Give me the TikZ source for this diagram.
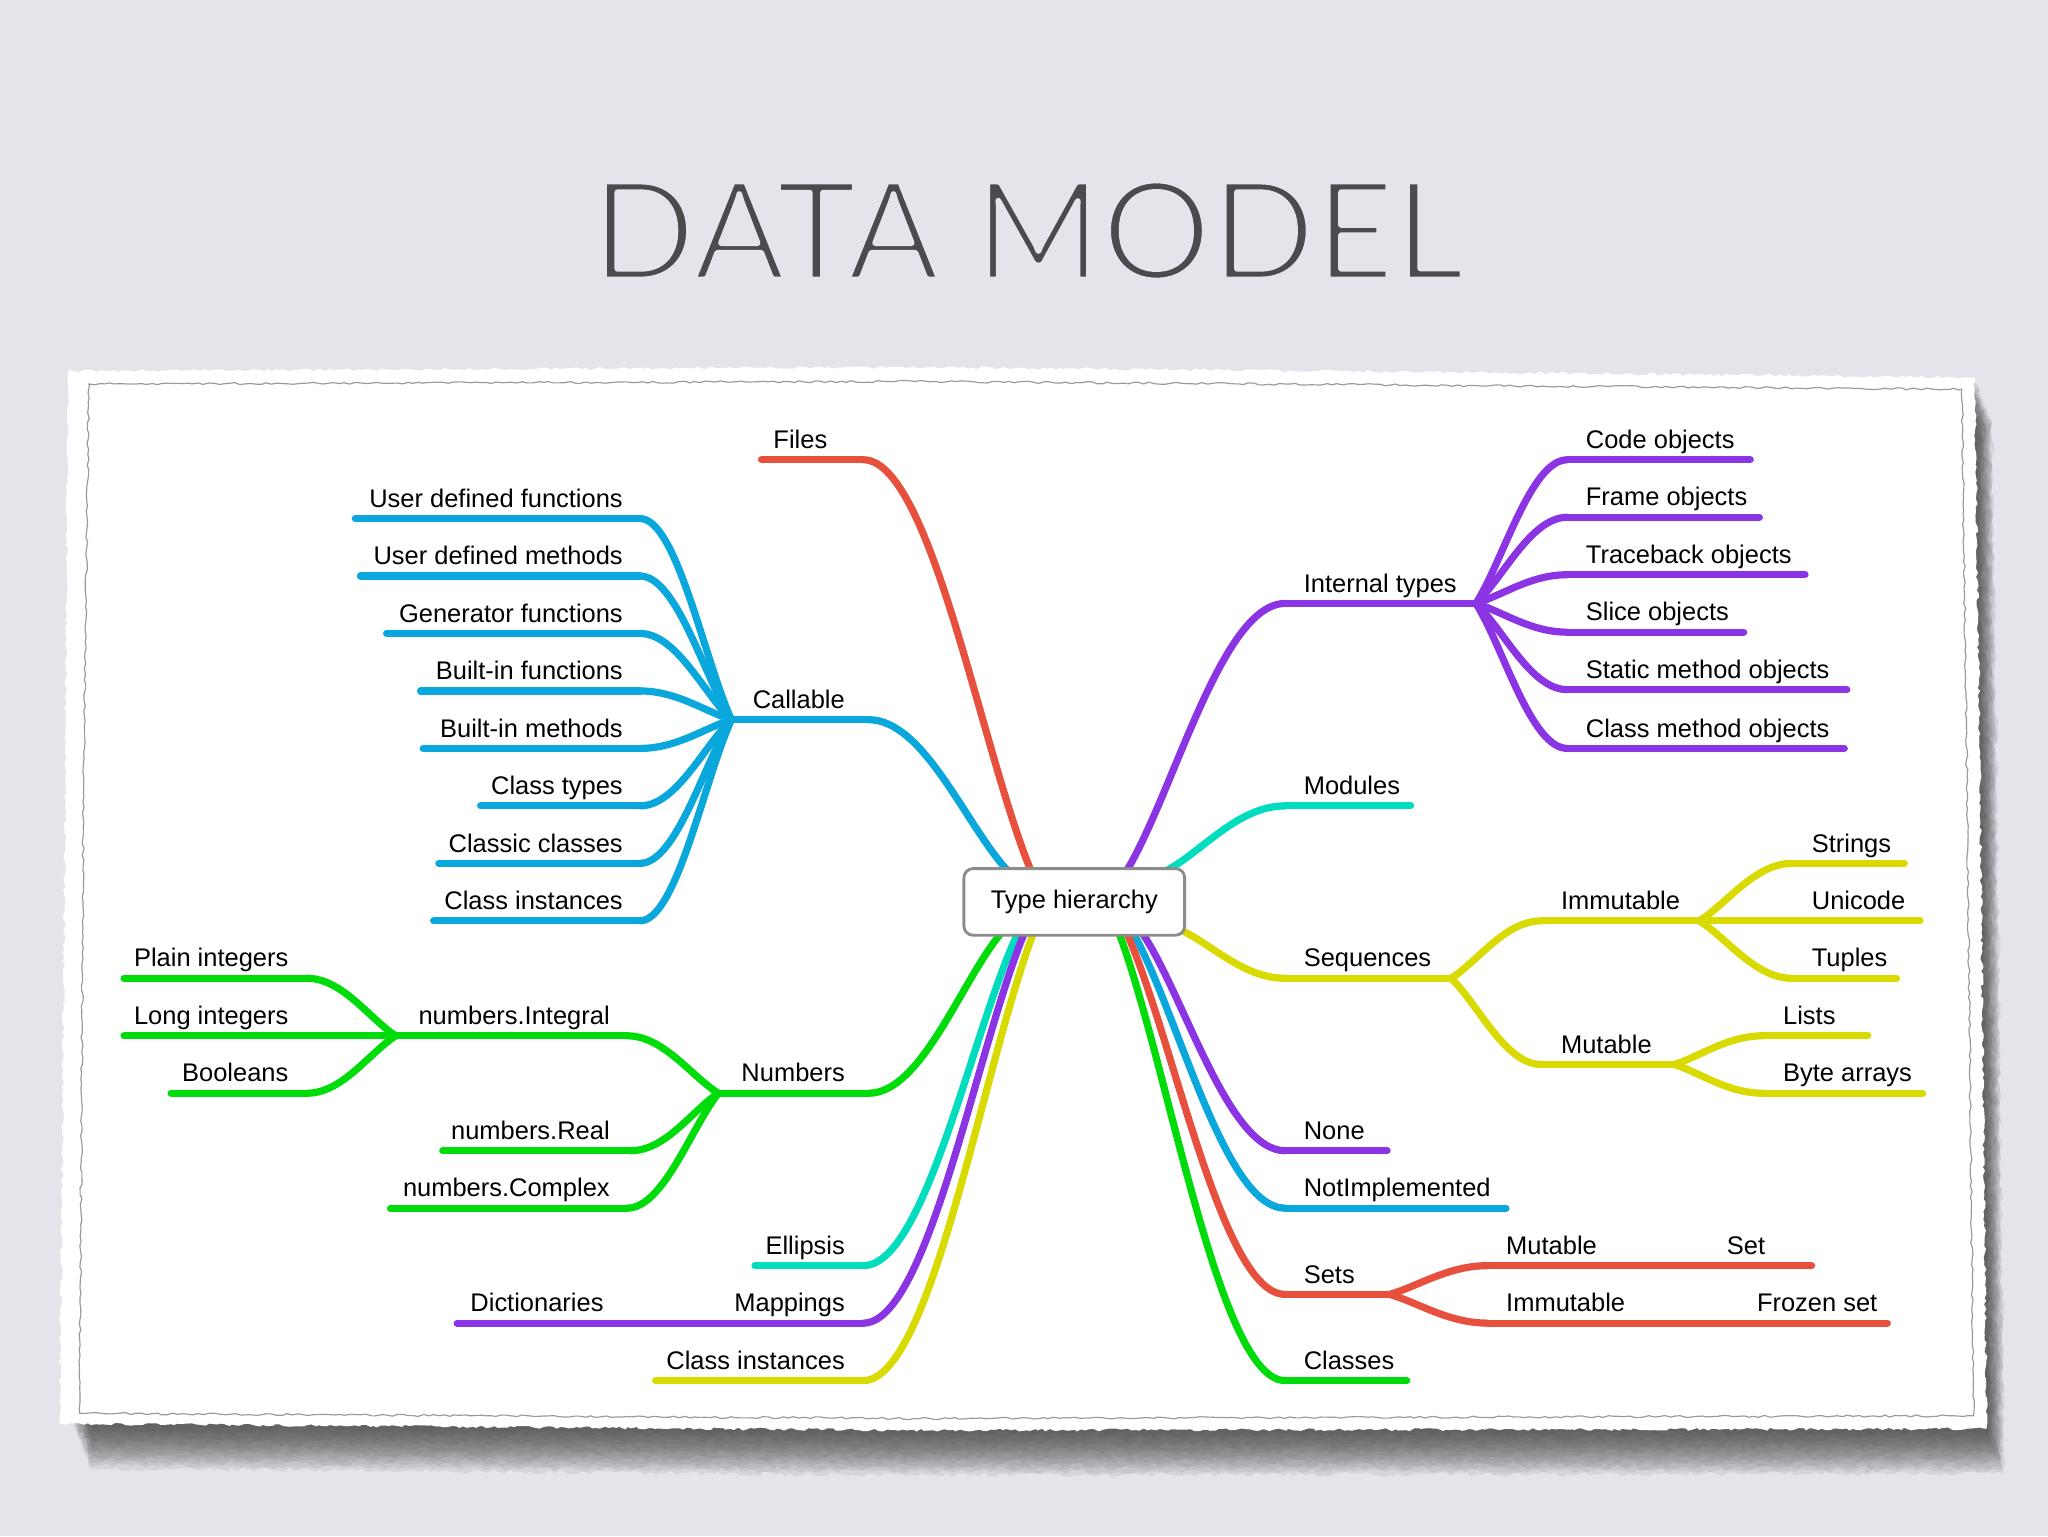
\documentclass[tikz,border=0pt]{standalone}
\usepackage{fontspec}
\setmainfont{Liberation Sans}
\newfontfamily\titlefont{Lato}
\usetikzlibrary{calc,decorations.pathmorphing}
\pgfdeclarelayer{back}
\pgfdeclarelayer{lines}
\pgfsetlayers{back,lines,main}
\definecolor{cred}{HTML}{E8503E}
\definecolor{cblue}{HTML}{0AA7DD}
\definecolor{cpurple}{HTML}{8B34E3}
\definecolor{cteal}{HTML}{00DDBE}
\definecolor{cyellow}{HTML}{D8DA00}
\definecolor{cgreen}{HTML}{00DC0A}
\definecolor{boxgray}{HTML}{8C8C8C}
\definecolor{titlegray}{HTML}{4B4B4E}
\definecolor{bggray}{HTML}{E4E5EA}
\definecolor{edgegray}{HTML}{9A9A9A}
\newcommand\lbfont{\fontsize{19.5}{22}\selectfont}
\tikzset{
  lbl/.style={font=\lbfont, inner sep=0pt, text=black},
  br/.style={line width=5.5pt, line cap=round, line join=round},
  hubbox/.style={draw=boxgray, line width=2.2pt, fill=white, rounded corners=7pt,
    minimum width=169pt, minimum height=51pt, font=\lbfont, inner sep=0pt},
  torn/.style={decorate, decoration={random steps, segment length=3pt, amplitude=1.1pt}},
}
% label right-aligned at #6 (text right edge)
\newcommand\mmL[7]{%
  \coordinate (#1-a) at (#3,#5);
  \coordinate (#1-b) at (#4,#5);
  \node[lbl, anchor=base east] (#1) at (#6,#5-8.7) {#7};
  \begin{pgfonlayer}{lines}\draw[br,#2] (#1-a) -- (#1-b);\end{pgfonlayer}}
% label left-aligned at #6
\newcommand\mmR[7]{%
  \coordinate (#1-a) at (#3,#5);
  \coordinate (#1-b) at (#4,#5);
  \node[lbl, anchor=base west] (#1) at (#6,#5-8.7) {#7};
  \begin{pgfonlayer}{lines}\draw[br,#2] (#1-a) -- (#1-b);\end{pgfonlayer}}
% curved connector: horizontal at #2, arriving into #3
\newcommand\mmlink[3]{%
  \begin{pgfonlayer}{lines}
  \draw[br,#1] let \p1=(#2), \p2=(#3) in (\p1) .. controls ({\x1+0.4*(\x2-\x1)},\y1) and ({\x2-0.3*(\x2-\x1)},{\y2-0.3*(\y2-\y1)}) .. (\p2);
  \end{pgfonlayer}}
\begin{document}
\begin{tikzpicture}[x=1pt,y=-1pt]
\pgfmathsetseed{11}
\useasboundingbox (0,0) rectangle (1568,1176);
\begin{pgfonlayer}{back}
  \fill[bggray] (0,0) rectangle (1568,1176);
  % shadow
  \foreach \i in {1,...,14}{
    \begin{scope}[shift={(\i*0.95,\i*2.45)}]
      \fill[black!80, opacity=0.085, decorate, decoration={random steps, segment length=4pt, amplitude=1.6pt}] (60,290) -- (700,287) -- (1512,289) -- (1516,600) -- (1521,1094) -- (700,1095) -- (56,1090) -- (58,600) -- cycle;
    \end{scope}}
  % paper
  \fill[white, torn] (52,284) -- (700,281) -- (1512,289) -- (1516,600) -- (1521,1094) -- (700,1095) -- (46,1090) -- (50,600) -- cycle;
  \draw[edgegray, line width=0.9pt, decorate, decoration={random steps, segment length=4pt, amplitude=0.8pt}]
    (68,294) -- (700,292) -- (1502,298) -- (1506,600) -- (1511,1084) -- (700,1086) -- (61,1082) -- (64,600) -- cycle;
\end{pgfonlayer}

% title
\node[anchor=base, text=titlegray, inner sep=0pt] (title) at (787,214)
  {\titlefont\fontsize{104.7}{110}\selectfont\special{pdf:literal direct q 1 j 2 Tr 4.4 w 0.894 0.898 0.918 RG}DATA MODEL\special{pdf:literal direct Q}};

% hub
\node[hubbox] (hub) at (822.5,690.5) {Type hierarchy};
\coordinate (h-files) at (789,666);
\coordinate (h-cal) at (771,666);
\coordinate (h-int) at (863,666);
\coordinate (h-mod) at (894,666);
\coordinate (h-num) at (766,715);
\coordinate (h-ell) at (779,715);
\coordinate (h-map) at (784,715);
\coordinate (h-cin) at (791,715);
\coordinate (h-cls) at (857,715);
\coordinate (h-set) at (863,715);
\coordinate (h-ni) at (868,715);
\coordinate (h-none) at (875,715);
\coordinate (h-seq) at (904,712);

% ---- left top
\mmR{files}{cred}{583}{661}{352}{592}{Files}
\mmlink{cred}{files-b}{h-files}
\mmL{cal}{cblue}{560}{665}{551}{647}{Callable}
\mmlink{cblue}{cal-b}{h-cal}
\mmL{udf}{cblue}{272}{490}{397}{477}{User defined functions}
\mmL{udm}{cblue}{276}{490}{441}{477}{User defined methods}
\mmL{gen}{cblue}{296}{490}{485}{477}{Generator functions}
\mmL{bif}{cblue}{322}{490}{529}{477}{Built-in functions}
\mmL{bim}{cblue}{324}{490}{573}{477}{Built-in methods}
\mmL{clt}{cblue}{368}{490}{617}{477}{Class types}
\mmL{clc}{cblue}{336}{490}{661}{477}{Classic classes}
\mmL{cli}{cblue}{332}{490}{705}{477}{Class instances}
\mmlink{cblue}{udf-b}{cal-a}
\mmlink{cblue}{udm-b}{cal-a}
\mmlink{cblue}{gen-b}{cal-a}
\mmlink{cblue}{bif-b}{cal-a}
\mmlink{cblue}{bim-b}{cal-a}
\mmlink{cblue}{clt-b}{cal-a}
\mmlink{cblue}{clc-b}{cal-a}
\mmlink{cblue}{cli-b}{cal-a}

% ---- left bottom
\mmL{num}{cgreen}{550}{665}{837}{647}{Numbers}
\mmlink{cgreen}{num-b}{h-num}
\mmL{intg}{cgreen}{303}{480}{793}{467}{numbers.Integral}
\mmL{real}{cgreen}{339}{483}{881}{467}{numbers.Real}
\mmL{cplx}{cgreen}{299}{480}{925}{467}{numbers.Complex}
\mmlink{cgreen}{intg-b}{num-a}
\mmlink{cgreen}{real-b}{num-a}
\mmlink{cgreen}{cplx-b}{num-a}
\mmL{plain}{cgreen}{95}{235}{749}{221}{Plain integers}
\mmL{long}{cgreen}{95}{303}{793}{221}{Long integers}
\mmL{bool}{cgreen}{131}{235}{837}{221}{Booleans}
\mmlink{cgreen}{plain-b}{intg-a}
\mmlink{cgreen}{bool-b}{intg-a}
\mmL{ell}{cteal}{578}{661}{969}{647}{Ellipsis}
\mmlink{cteal}{ell-b}{h-ell}
\mmL{map}{cpurple}{550}{661}{1013}{647}{Mappings}
\mmlink{cpurple}{map-b}{h-map}
\mmR{dict}{cpurple}{350}{550}{1013}{360}{Dictionaries}
\mmL{cin}{cyellow}{502}{661}{1057}{647}{Class instances}
\mmlink{cyellow}{cin-b}{h-cin}

% ---- right top
\mmR{int}{cpurple}{984}{1130}{462}{998}{Internal types}
\mmlink{cpurple}{int-a}{h-int}
\mmR{code}{cpurple}{1200}{1340}{352}{1214}{Code objects}
\mmR{frame}{cpurple}{1200}{1347}{396}{1214}{Frame objects}
\mmR{trace}{cpurple}{1200}{1382}{440}{1214}{Traceback objects}
\mmR{slice}{cpurple}{1200}{1335}{484}{1214}{Slice objects}
\mmR{static}{cpurple}{1200}{1414}{528}{1214}{Static method objects}
\mmR{cmo}{cpurple}{1200}{1412}{573}{1214}{Class method objects}
\mmlink{cpurple}{code-a}{int-b}
\mmlink{cpurple}{frame-a}{int-b}
\mmlink{cpurple}{trace-a}{int-b}
\mmlink{cpurple}{slice-a}{int-b}
\mmlink{cpurple}{static-a}{int-b}
\mmlink{cpurple}{cmo-a}{int-b}
\mmR{mod}{cteal}{984}{1080}{617}{998}{Modules}
\mmlink{cteal}{mod-a}{h-mod}

% ---- sequences
\mmR{seq}{cyellow}{984}{1111}{749}{998}{Sequences}
\mmlink{cyellow}{seq-a}{h-seq}
\mmR{imm}{cyellow}{1180}{1301}{705}{1195}{Immutable}
\mmR{mut}{cyellow}{1180}{1282}{815}{1195}{Mutable}
\mmlink{cyellow}{imm-a}{seq-b}
\mmlink{cyellow}{mut-a}{seq-b}
\mmR{str}{cyellow}{1372}{1458}{661}{1387}{Strings}
\mmR{uni}{cyellow}{1301}{1470}{705}{1387}{Unicode}
\mmR{tup}{cyellow}{1372}{1452}{749}{1387}{Tuples}
\mmlink{cyellow}{str-a}{imm-b}
\mmlink{cyellow}{tup-a}{imm-b}
\mmR{lst}{cyellow}{1350}{1430}{793}{1365}{Lists}
\mmR{byt}{cyellow}{1350}{1472}{837}{1365}{Byte arrays}
\mmlink{cyellow}{lst-a}{mut-b}
\mmlink{cyellow}{byt-a}{mut-b}

% ---- right bottom
\mmR{none}{cpurple}{984}{1062}{881}{998}{None}
\mmlink{cpurple}{none-a}{h-none}
\mmR{ni}{cblue}{984}{1153}{925}{998}{NotImplemented}
\mmlink{cblue}{ni-a}{h-ni}
\mmR{sets}{cred}{984}{1064}{991}{998}{Sets}
\mmlink{cred}{sets-a}{h-set}
\mmR{smut}{cred}{1139}{1232}{969}{1153}{Mutable}
\mmR{set}{cred}{1232}{1387}{969}{1322}{Set}
\mmR{simm}{cred}{1139}{1254}{1013}{1153}{Immutable}
\mmR{froz}{cred}{1254}{1445}{1013}{1345}{Frozen set}
\mmlink{cred}{smut-a}{sets-b}
\mmlink{cred}{simm-a}{sets-b}
\mmR{cls}{cgreen}{984}{1077}{1057}{998}{Classes}
\mmlink{cgreen}{cls-a}{h-cls}
\end{tikzpicture}
\end{document}
